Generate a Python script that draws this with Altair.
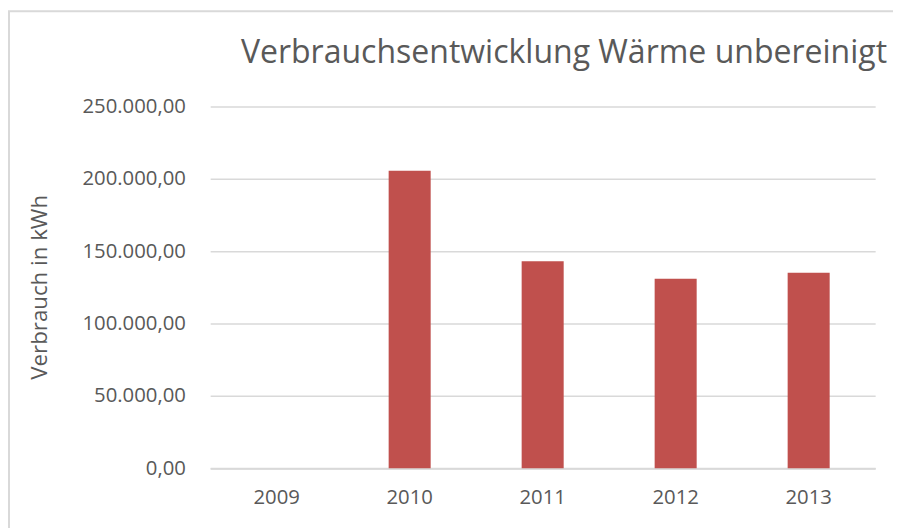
import altair as alt
import pandas as pd

years = ["2009", "2010", "2011", "2012", "2013"]
verbrauch = [None, 205500, 143000, 131000, 135000]
title_text = ["Verbrauchsentwicklung Wärme unbereinigt"]

df = pd.DataFrame({"Jahr": years, "Verbrauch": verbrauch})

FONT = "Open Sans"
GRAY = "#595959"

bars = alt.Chart(df).mark_bar(color="#C0504D").encode(
    x=alt.X("Jahr:N", sort=years,
            scale=alt.Scale(domain=years, paddingInner=0.684, paddingOuter=0.342),
            axis=alt.Axis(title=None, labelAngle=0, labelFontSize=20.5, labelColor=GRAY,
                          labelFont=FONT, ticks=False, labelPadding=20,
                          domainColor="#d9d9d9", domainWidth=2, grid=False)),
    y=alt.Y("Verbrauch:Q",
            scale=alt.Scale(domain=[0, 250000], nice=False),
            axis=alt.Axis(title="Verbrauch in kWh", values=[0, 50000, 100000, 150000, 200000, 250000],
                          format=",.2f", labelFontSize=20.5, labelColor=GRAY, labelFont=FONT,
                          ticks=False, domain=False, labelPadding=25,
                          gridColor="#d9d9d9", gridWidth=1.5,
                          titleFont=FONT, titleFontSize=22.5, titleColor=GRAY,
                          titleFontWeight="normal", titleX=-172, titleY=182,
                          titleAlign="center", titleBaseline="middle")),
)

border = alt.Chart(pd.DataFrame({"a": [0]})).mark_rect(
    fill=None, stroke="#d9d9d9", strokeWidth=2
).encode(
    x=alt.value(-203), x2=alt.value(720), y=alt.value(-96), y2=alt.value(500)
)

title = alt.Chart(pd.DataFrame({"t": title_text})).mark_text(
    font=FONT, fontSize=32.3, color=GRAY, align="left", baseline="alphabetic"
).encode(
    text="t:N", x=alt.value(31), y=alt.value(-44)
)

chart = alt.layer(border, bars, title).properties(
    width=671, height=365,
    autosize=alt.AutoSizeParams(type="none"),
    padding={"left": 204, "top": 97, "right": 18, "bottom": 58},
).configure(
    locale={"number": {"decimal": ",", "thousands": ".", "grouping": [3], "currency": ["", " €"]}}
).configure_view(stroke=None)

chart.save("out.html", embed_options={"renderer": "svg", "actions": False})
